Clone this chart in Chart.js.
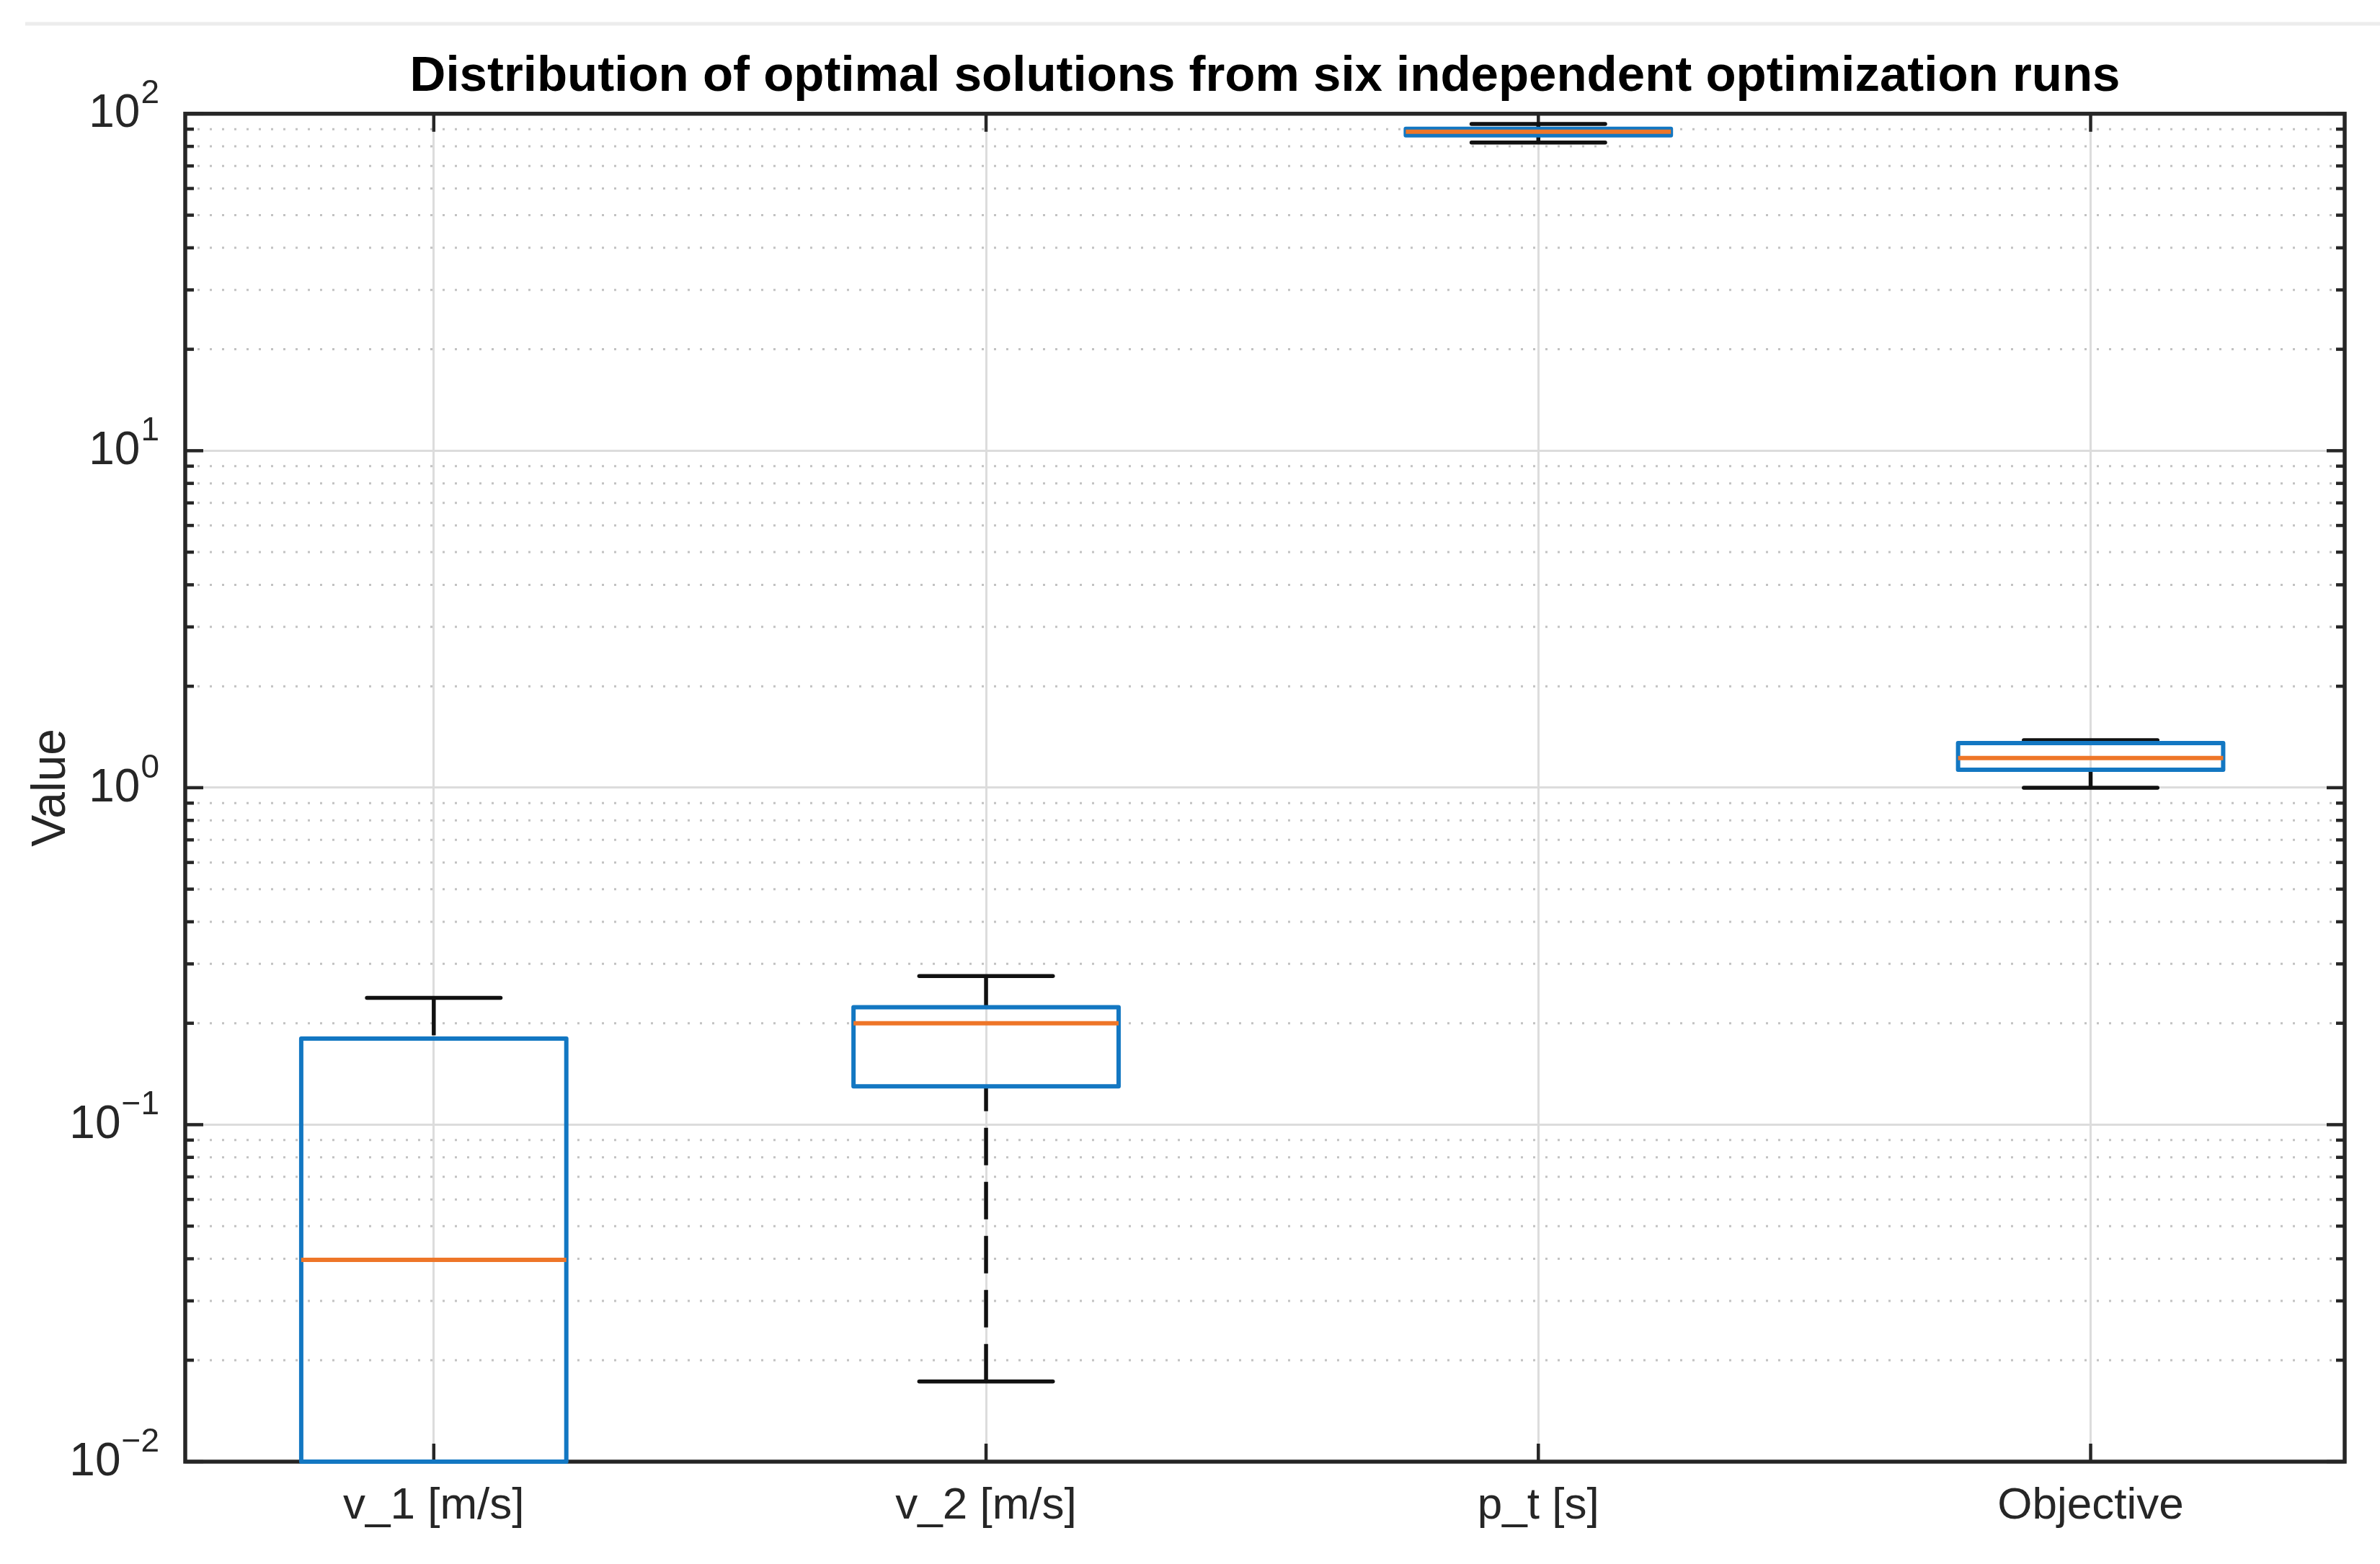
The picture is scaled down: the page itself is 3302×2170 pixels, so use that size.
<!DOCTYPE html>
<html>
<head>
<meta charset="utf-8">
<title>Distribution of optimal solutions</title>
<script src="https://cdn.jsdelivr.net/npm/chart.js@4.4.1/dist/chart.umd.min.js"></script>
<style>
  html, body { margin: 0; padding: 0; background: #fff; }
  #wrap { position: relative; width: 3302px; height: 2170px; }
</style>
</head>
<body>
<div id="wrap"><canvas id="boxChart"></canvas></div>
<script>
// categorias e estatísticas de cada caixa
const categories = ['v_1 [m/s]', 'v_2 [m/s]', 'p_t [s]', 'Objective'];
const whiskerLow = [0.005, 0.0173, 82.1, 1.0];
const q1 = [0.01, 0.130, 86.3, 1.131];
const medians = [0.0397, 0.200, 88.4, 1.224];
const q3 = [0.180, 0.223, 90.2, 1.357];
const whiskerHigh = [0.238, 0.276, 93.3, 1.384];

// ticks do eixo y (10^k)
const yTicks = [0.01, 0.1, 1, 10, 100];
const yExponents = ['\u22122', '\u22121', '0', '1', '2'];

const FONT = "'Liberation Sans', Arial, Helvetica, sans-serif";
const AXIS_COLOR = '#262626';
const BOX_COLOR = '#1377C2';
const MEDIAN_COLOR = '#EE7628';
const BOX_HALF = 0.24;
const CAP_HALF = 0.121;

function line(ctx, x1, y1, x2, y2) {
  ctx.beginPath();
  ctx.moveTo(x1, y1);
  ctx.lineTo(x2, y2);
  ctx.stroke();
}

const boxPlotPlugin = {
  id: 'boxPlot',
  beforeDraw(chart) {
    const ctx = chart.ctx;
    ctx.save();
    ctx.fillStyle = '#fff';
    ctx.fillRect(0, 0, chart.width, chart.height);
    // linha cinza clara no topo da figura
    ctx.strokeStyle = '#ececec';
    ctx.lineWidth = 5;
    line(ctx, 35, 33, chart.width, 33);
    ctx.restore();
  },
  beforeDatasetsDraw(chart) {
    const { ctx, chartArea: a, scales: { x, y } } = chart;
    ctx.save();
    // grade menor pontilhada
    ctx.strokeStyle = '#c2c2c2';
    ctx.lineWidth = 3;
    ctx.setLineDash([3, 14]);
    for (let k = -2; k < 2; k++) {
      for (let m = 2; m <= 9; m++) {
        const py = y.getPixelForValue(m * Math.pow(10, k));
        line(ctx, a.left, py, a.right, py);
      }
    }
    ctx.setLineDash([]);

    // moldura e ticks para dentro
    ctx.strokeStyle = AXIS_COLOR;
    ctx.lineWidth = 4.5;
    for (let k = -2; k < 2; k++) {
      for (let m = 2; m <= 9; m++) {
        const py = y.getPixelForValue(m * Math.pow(10, k));
        line(ctx, a.left, py, a.left + 12, py);
        line(ctx, a.right, py, a.right - 12, py);
      }
    }
    yTicks.forEach(v => {
      const py = y.getPixelForValue(v);
      line(ctx, a.left, py, a.left + 25, py);
      line(ctx, a.right, py, a.right - 25, py);
    });
    categories.forEach((c, i) => {
      const px = x.getPixelForValue(i + 1);
      line(ctx, px, a.top, px, a.top + 25);
      line(ctx, px, a.bottom, px, a.bottom - 25);
    });
    ctx.lineWidth = 5.5;
    ctx.strokeRect(a.left, a.top, a.right - a.left, a.bottom - a.top);
    ctx.restore();
  },
  afterDatasetsDraw(chart) {
    const { ctx, chartArea: a, scales: { x, y } } = chart;
    ctx.save();
    ctx.beginPath();
    ctx.rect(a.left, a.top - 4, a.right - a.left, a.bottom - a.top + 8);
    ctx.clip();
    categories.forEach((c, i) => {
      const cx = x.getPixelForValue(i + 1);
      const l = x.getPixelForValue(i + 1 - BOX_HALF);
      const r = x.getPixelForValue(i + 1 + BOX_HALF);
      const cl = x.getPixelForValue(i + 1 - CAP_HALF);
      const cr = x.getPixelForValue(i + 1 + CAP_HALF);
      const yLo = y.getPixelForValue(whiskerLow[i]);
      const yQ1 = y.getPixelForValue(q1[i]);
      const yMed = y.getPixelForValue(medians[i]);
      const yQ3 = y.getPixelForValue(q3[i]);
      const yHi = y.getPixelForValue(whiskerHigh[i]);

      // bigodes tracejados, do limite até a caixa
      ctx.strokeStyle = '#111';
      ctx.lineWidth = 5.5;
      ctx.lineCap = 'butt';
      ctx.setLineDash([52, 23]);
      line(ctx, cx, yHi, cx, yQ3);
      line(ctx, cx, yLo, cx, yQ1);
      ctx.setLineDash([]);
      ctx.lineCap = 'round';
      line(ctx, cl, yHi, cr, yHi);
      line(ctx, cl, yLo, cr, yLo);

      // caixa
      ctx.lineWidth = 6;
      ctx.strokeStyle = BOX_COLOR;
      ctx.lineJoin = 'round';
      ctx.strokeRect(l, yQ3, r - l, yQ1 - yQ3);

      // mediana
      ctx.strokeStyle = MEDIAN_COLOR;
      ctx.lineCap = 'butt';
      line(ctx, l, yMed, r, yMed);
    });
    ctx.restore();
  },
  afterDraw(chart) {
    const { ctx, chartArea: a, scales: { y } } = chart;
    const right = a.left - 36;
    ctx.save();
    ctx.fillStyle = AXIS_COLOR;
    ctx.textBaseline = 'middle';
    ctx.textAlign = 'right';
    yTicks.forEach((v, i) => {
      const py = y.getPixelForValue(v);
      ctx.font = '46px ' + FONT;
      const ew = ctx.measureText(yExponents[i]).width;
      ctx.fillText(yExponents[i], right, py - 27);
      ctx.font = '64px ' + FONT;
      ctx.fillText('10', right - ew - 1, py + 1);
    });
    ctx.restore();
  }
};

new Chart(document.getElementById('boxChart'), {
  type: 'scatter',
  data: {
    datasets: [{
      label: 'Median',
      data: medians.map((m, i) => ({ x: i + 1, y: m })),
      pointRadius: 0,
      pointHoverRadius: 0
    }]
  },
  options: {
    responsive: true,
    maintainAspectRatio: false,
    animation: false,
    layout: { padding: { top: 42, left: 32, right: 49, bottom: 0 } },
    plugins: {
      legend: { display: false },
      tooltip: { enabled: false },
      title: {
        display: true,
        fullSize: false,
        text: 'Distribution of optimal solutions from six independent optimization runs',
        color: '#000',
        font: { family: FONT, size: 69, weight: 'bold' },
        padding: { top: 24, bottom: 9 }
      }
    },
    scales: {
      x: {
        type: 'linear',
        min: 0.55,
        max: 4.46,
        afterBuildTicks: s => { s.ticks = categories.map((c, i) => ({ value: i + 1 })); },
        afterFit: s => { s.height = 142; },
        ticks: {
          callback: v => categories[v - 1],
          color: AXIS_COLOR,
          font: { family: FONT, size: 62 },
          padding: 25,
          maxRotation: 0,
          autoSkip: false
        },
        grid: { color: '#dcdcdc', lineWidth: 3, drawTicks: false },
        border: { display: false }
      },
      y: {
        type: 'logarithmic',
        min: 0.01,
        max: 100,
        afterBuildTicks: s => { s.ticks = yTicks.map(v => ({ value: v })); },
        afterFit: s => { s.width = 225; },
        ticks: { display: false },
        grid: { color: '#dcdcdc', lineWidth: 3, drawTicks: false },
        border: { display: false },
        title: {
          display: true,
          text: 'Value',
          color: AXIS_COLOR,
          font: { family: FONT, size: 66 },
          padding: 0
        }
      }
    }
  },
  plugins: [boxPlotPlugin]
});
</script>
</body>
</html>
